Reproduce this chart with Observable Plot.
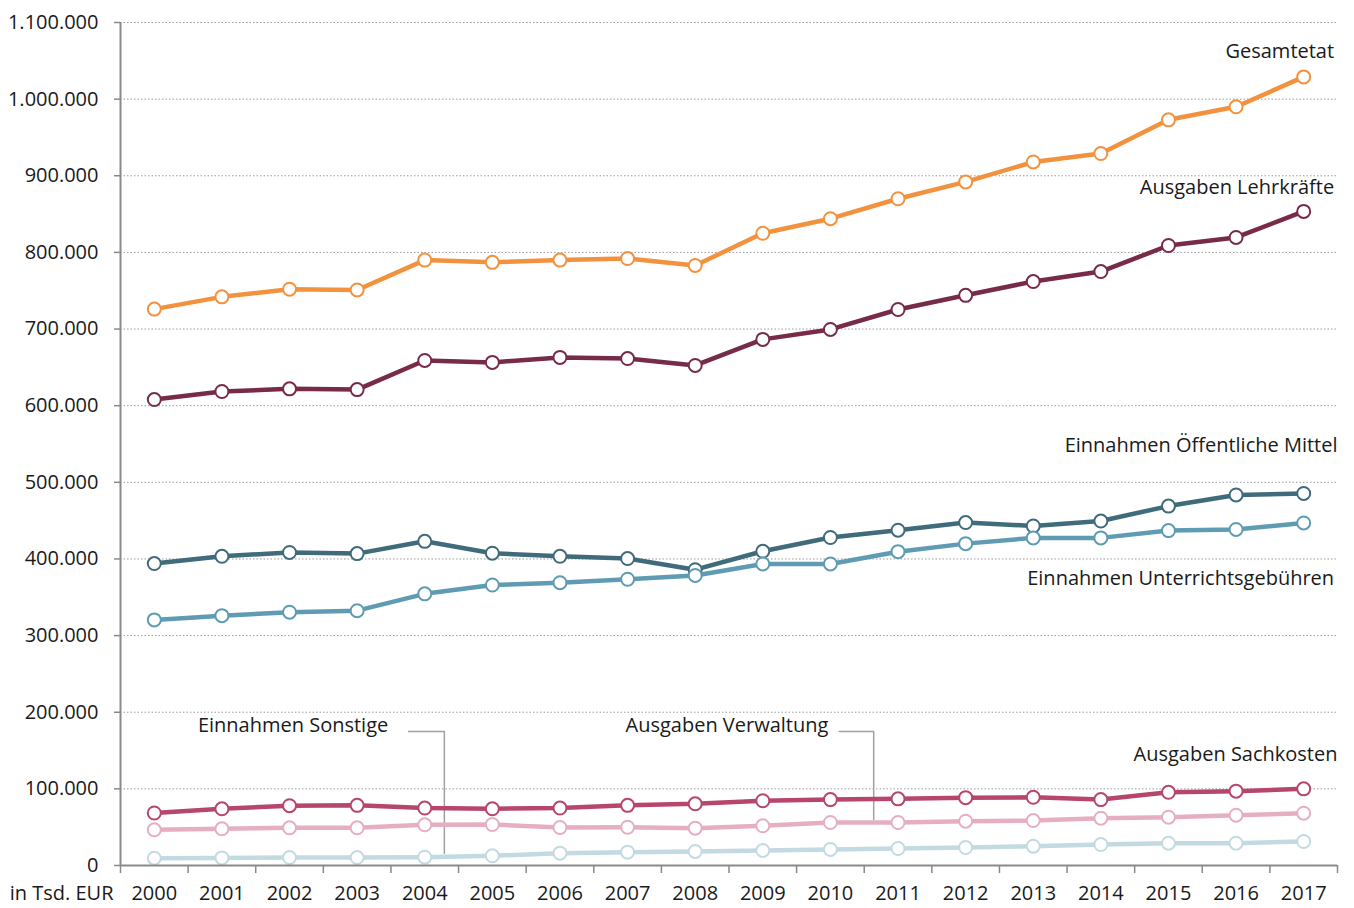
<!DOCTYPE html>
<html>
<head>
<meta charset="utf-8">
<script src="https://cdn.jsdelivr.net/npm/d3@7"></script>
<script src="https://cdn.jsdelivr.net/npm/@observablehq/plot@0.6"></script>
<style>
  html, body { margin: 0; padding: 0; background: #fff; }
  #chart svg { display: block; }
</style>
</head>
<body>
<div id="chart"></div>
<script>
const years = [2000,2001,2002,2003,2004,2005,2006,2007,2008,2009,2010,2011,2012,2013,2014,2015,2016,2017];

const gesamtetat     = [726000,742000,752000,751000,790000,787000,790000,792000,783000,825000,844000,870000,892000,918000,929000,973000,990000,1029000];
const lehrkraefte    = [608000,618500,622000,621000,659000,656500,663000,661500,652500,686500,699500,725500,744000,762000,775000,809000,819500,853500];
const oeffentlich    = [394000,403500,408500,407000,423000,407500,403500,400500,386000,410000,428000,437500,447500,443000,449500,469000,483500,485500];
const unterricht     = [320500,326000,330500,332500,354500,366000,369000,373500,378500,393500,393500,409500,420000,427500,427500,437000,438500,447000];
const sachkosten     = [68500,74000,78000,78500,75000,74000,75000,78500,80500,84500,86000,87000,88500,89000,86000,95500,97000,100000];
const verwaltung     = [46600,47900,49200,49200,53100,53500,49600,49900,48700,51800,56100,56100,57800,58700,61700,63000,65600,68200];
const sonstige       = [9500,9900,10400,10400,10800,12700,16100,17400,18300,19600,20900,22200,23500,25200,27400,29100,29100,31300];

const seriesNames  = ["Einnahmen Sonstige","Ausgaben Verwaltung","Ausgaben Sachkosten","Einnahmen Öffentliche Mittel","Einnahmen Unterrichtsgebühren","Ausgaben Lehrkräfte","Gesamtetat"];
const seriesValues = [sonstige, verwaltung, sachkosten, oeffentlich, unterricht, lehrkraefte, gesamtetat];
const seriesColors = ["#c3dae2","#e6afc1","#b7466d","#3f6b7b","#5f9cb3","#772b48","#f2923f"];

const yTicks = [0,100000,200000,300000,400000,500000,600000,700000,800000,900000,1000000,1100000];
const unitLabel = "in Tsd. EUR";

// label annotations (data space)
const labelText   = ["Gesamtetat","Ausgaben Lehrkräfte","Einnahmen Öffentliche Mittel","Einnahmen Unterrichtsgebühren","Ausgaben Sachkosten","Einnahmen Sonstige","Ausgaben Verwaltung"];
const labelX      = [2017.45,2017.45,2017.5,2017.45,2017.5,2003.46,2009.97];
const labelY      = [1062000,884700,548000,374500,144800,182700,182700];
// leader lines
const leaderSeries = ["Sonstige","Sonstige","Sonstige","Verwaltung","Verwaltung","Verwaltung"];
const leaderX      = [2003.76,2004.29,2004.29,2010.13,2010.64,2010.64];
const leaderY      = [174800,174800,15700,174800,174800,60000];

const de = d3.formatLocale({decimal: ",", thousands: ".", grouping: [3], currency: ["", " €"]});
const fmt = de.format(",d");

const FONT = "'Open Sans', sans-serif";
const FS = 20;

const marks = [];
marks.push(Plot.gridY(yTicks.filter(d => d > 0), {stroke: "#9a9a9a", strokeOpacity: 1, strokeWidth: 1, strokeDasharray: "1.5,2"}));

// leader lines
const leaders = leaderX.map((x, i) => ({x, y: leaderY[i], s: leaderSeries[i]}));
marks.push(Plot.line(leaders, {x: "x", y: "y", z: "s", stroke: "#a0a0a0", strokeWidth: 1.5}));

seriesNames.forEach((name, i) => {
  const data = years.map((yr, j) => ({year: yr, value: seriesValues[i][j]}));
  marks.push(Plot.line(data, {x: "year", y: "value", stroke: seriesColors[i], strokeWidth: 4.5, strokeLinejoin: "round"}));
  marks.push(Plot.dot(data, {x: "year", y: "value", r: 6.5, fill: "white", stroke: seriesColors[i], strokeWidth: 2}));
});

// axes
marks.push(Plot.ruleY([0], {stroke: "#8a8a8a", strokeWidth: 2}));
marks.push(Plot.ruleX([1999.5], {y1: 0, y2: 1100000, stroke: "#8a8a8a", strokeWidth: 2}));
marks.push(Plot.axisY({ticks: yTicks, tickFormat: fmt, tickSize: 6, tickPadding: 16, stroke: "#8a8a8a", strokeWidth: 1.5, fill: "#1a1a1a", fontSize: FS, label: null}));
marks.push(Plot.axisX({ticks: d3.range(1999.5, 2018, 1), tickFormat: () => "", tickSize: 8, stroke: "#8a8a8a", strokeWidth: 1.5, label: null}));
marks.push(Plot.axisX({ticks: years, tickFormat: d => String(d), tickSize: 0, tickPadding: 20, fill: "#1a1a1a", fontSize: FS, label: null}));
marks.push(Plot.text([unitLabel], {frameAnchor: "bottom-left", dx: -7, dy: 28, textAnchor: "end", lineAnchor: "middle", fill: "#1a1a1a", fontSize: FS}));

// series labels
const labels = labelText.map((t, i) => ({t, x: labelX[i], y: labelY[i]}));
marks.push(Plot.text(labels, {x: "x", y: "y", text: "t", textAnchor: "end", lineAnchor: "middle", fill: "#1a1a1a", fontSize: FS}));

const chart = Plot.plot({
  width: 1354,
  height: 908,
  marginLeft: 120,
  marginRight: 17,
  marginTop: 22,
  marginBottom: 43,
  style: {fontFamily: FONT, fontSize: FS + "px", background: "#fff"},
  x: {type: "linear", domain: [1999.5, 2017.5], axis: null},
  y: {type: "linear", domain: [0, 1100000], axis: null},
  marks
});
document.getElementById("chart").appendChild(chart);
</script>
</body>
</html>
